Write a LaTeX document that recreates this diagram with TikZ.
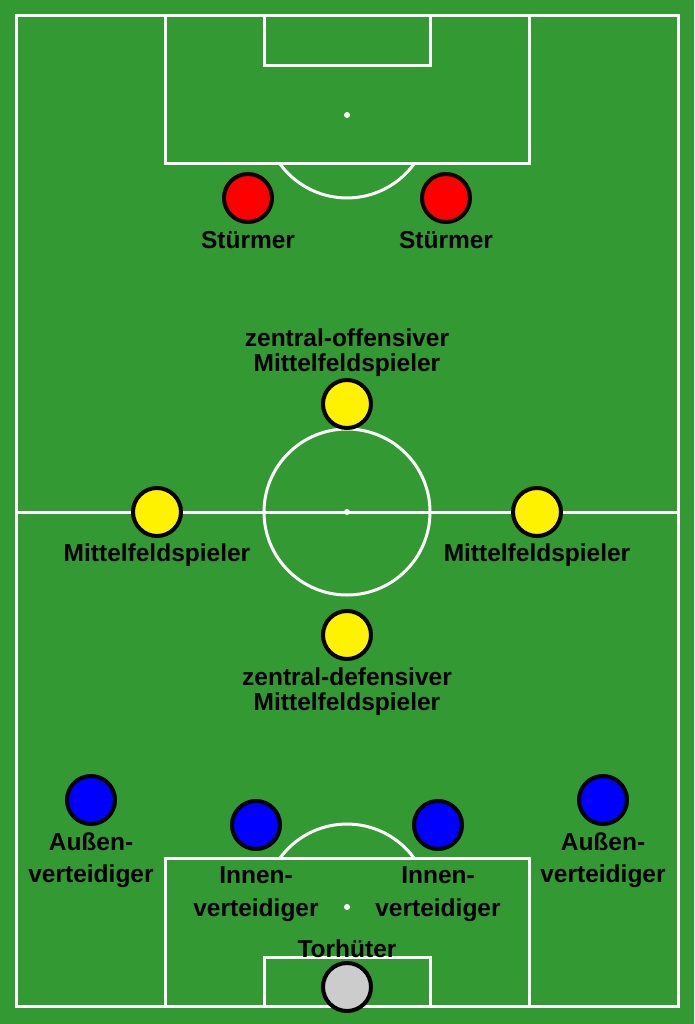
\documentclass[tikz,border=0pt]{standalone}
\usepackage{fontspec}
\setmainfont{Liberation Sans}
\usepackage{xcolor}
\definecolor{pitch}{RGB}{51,153,51}
\definecolor{keeper}{RGB}{204,204,204}

\begin{document}
\begin{tikzpicture}[x=1pt,y=-1pt,
    pline/.style={draw=white,line width=3pt},
    player/.style={circle,draw=black,line width=4pt,minimum size=48pt,inner sep=0pt},
    lbl/.style={font=\fontsize{24.5}{25}\selectfont\bfseries,align=center,inner sep=0pt,anchor=base}]
    \useasboundingbox (0,0) rectangle (694,1024);
    \fill[pitch] (0,0) rectangle (694,1024);
    \draw[pline] (16,16) rectangle (678,1006);
    \draw[pline] (16,512) -- (678,512);
    \draw[pline] (165,16) rectangle (529,164);
    \draw[pline] (264,16) rectangle (430,66);
    \draw[pline] (165,858) rectangle (529,1006);
    \draw[pline] (264,957) rectangle (430,1006);
    \draw[pline] (347,512) circle[radius=83];
    \draw[pline] (414,164) arc[start angle=36.2,end angle=143.8,radius=83];
    \draw[pline] (414,858) arc[start angle=-36.2,end angle=-143.8,radius=83];
    \fill[white] (347,115) circle[radius=3];
    \fill[white] (347,512) circle[radius=3];
    \fill[white] (347,907) circle[radius=3];
    \node[player,fill=red] (st1) at (248,198) {};
    \node[player,fill=red] (st2) at (446,198) {};
    \node[player,fill=yellow] (zom) at (347,404) {};
    \node[player,fill=yellow] (lm) at (157,512) {};
    \node[player,fill=yellow] (rm) at (537,512) {};
    \node[player,fill=yellow] (zdm) at (347,635) {};
    \node[player,fill=blue] (lv) at (91,800) {};
    \node[player,fill=blue] (iv1) at (256,825) {};
    \node[player,fill=blue] (iv2) at (438,825) {};
    \node[player,fill=blue] (rv) at (603,800) {};
    \node[player,fill=keeper] (tw) at (347,987) {};
    \node[lbl] (st1-l) at (248,248) {Stürmer};
    \node[lbl] (st2-l) at (446,248) {Stürmer};
    \node[lbl] (zom-l) at (347,371) {zentral-offensiver\\Mittelfeldspieler};
    \node[lbl] (lm-l) at (157,561) {Mittelfeldspieler};
    \node[lbl] (rm-l) at (537,561) {Mittelfeldspieler};
    \node[lbl] (zdm-l) at (347,710) {zentral-defensiver\\Mittelfeldspieler};
    \node[lbl] (lv-l) at (91,882) {Außen-\\[7pt]verteidiger};
    \node[lbl] (rv-l) at (603,882) {Außen-\\[7pt]verteidiger};
    \node[lbl] (iv1-l) at (256,916) {Innen-\\[8pt]verteidiger};
    \node[lbl] (iv2-l) at (438,916) {Innen-\\[8pt]verteidiger};
    \node[lbl] (tw-l) at (347,957) {Torhüter};
\end{tikzpicture}
\end{document}
